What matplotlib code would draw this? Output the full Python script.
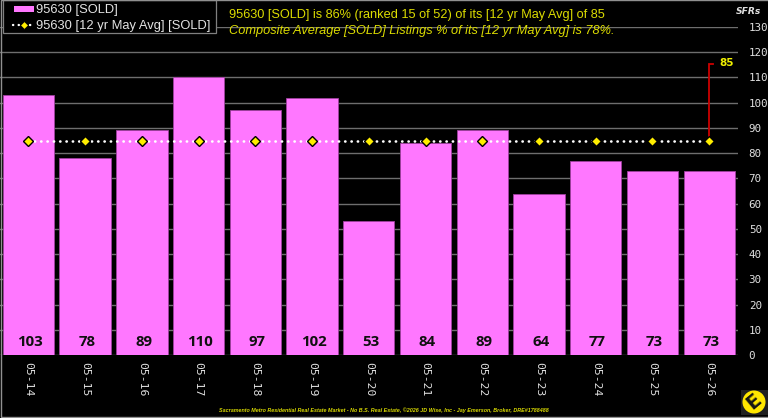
import matplotlib
matplotlib.use("Agg")
import matplotlib.pyplot as plt
from matplotlib.patches import Circle, Rectangle

periods = ["05-14", "05-15", "05-16", "05-17", "05-18", "05-19", "05-20",
           "05-21", "05-22", "05-23", "05-24", "05-25", "05-26"]
sold = [103, 78, 89, 110, 97, 102, 53, 84, 89, 64, 77, 73, 73]
avg_sold = [85] * 13
y_ticks = list(range(0, 140, 10))

W, H = 768, 418
PINK = "#ff77ff"
DOTS = (0, (0.1, 2.3))


# pixel position from the top left corner, as figure fractions
def px(x, y):
    return x / W, 1 - y / H


fig = plt.figure(figsize=(W / 100, H / 100), dpi=100, facecolor="black")
ax = fig.add_axes([0, 1 - 355 / H, 737.6 / W, 328 / H], facecolor="black")

x = list(range(len(periods)))
ax.bar(x, sold, width=0.905, color=PINK, edgecolor="#a040a0", linewidth=0.6, zorder=2)

ax.plot(x, avg_sold, color="white", linestyle=DOTS, linewidth=1.9, dash_capstyle="round", zorder=3)
ax.plot(x, avg_sold, linestyle="none", marker="D", markersize=5.2,
        markerfacecolor="#ffee00", markeredgecolor="black", markeredgewidth=1.0, zorder=4)

for i, v in enumerate(sold):
    ax.text(i + 0.03, 5, str(v), ha="center", va="center", fontsize=10.8, fontweight="bold",
            family="Open Sans", color="#101010", zorder=5)

# marker line for the latest average
ax.plot([12, 12, 12.065], [85, 115.5, 115.5], color="#cc0000", linewidth=1.3, zorder=3,
        solid_joinstyle="miter")
ax.text(12.17, 115.7, str(avg_sold[-1]), ha="left", va="center", fontsize=7.5, fontweight="bold",
        family="DejaVu Sans", color="#f0f000")

ax.set_xlim(-0.5, 12.5)
ax.set_ylim(0, 130)
ax.set_yticks(y_ticks)
ax.set_xticks(x)
ax.set_xticklabels(periods, rotation=-90, family="DejaVu Sans Mono", fontsize=8.2, color="#e0e0e0")
ax.yaxis.tick_right()
ax.tick_params(axis="y", length=0, pad=8, labelsize=7.8, labelcolor="#e0e0e0")
for lab in ax.get_yticklabels():
    lab.set_family("DejaVu Sans Mono")
ax.tick_params(axis="x", length=0, pad=5)
ax.grid(axis="y", color="#6e6e6e", linewidth=1.0, zorder=1)
ax.set_axisbelow(True)
for s in ax.spines.values():
    s.set_visible(False)

# legend box, laid out by hand
fig.add_artist(Rectangle(px(3, 33), 213 / W, 33 / H, transform=fig.transFigure,
                         facecolor="black", edgecolor="#808080", linewidth=0.9))
fig.add_artist(Rectangle(px(14, 12), 20 / W, 6 / H, transform=fig.transFigure,
                         facecolor=PINK, edgecolor="none"))
fig.add_artist(plt.Line2D([px(13, 25)[0], px(34, 25)[0]], [px(13, 25)[1]] * 2,
                          transform=fig.transFigure, color="white", linestyle=DOTS,
                          linewidth=1.7, dash_capstyle="round"))
fig.add_artist(plt.Line2D([px(24, 25)[0]], [px(24, 25)[1]], transform=fig.transFigure,
                          marker="D", markersize=3.6, markerfacecolor="#ffee00",
                          markeredgecolor="black", markeredgewidth=0.6, linestyle="none"))
for label, y in [("95630 [SOLD]", 10), ("95630 [12 yr May Avg] [SOLD]", 26)]:
    fig.text(*px(36.5, y), label, family="Liberation Sans", fontsize=9.25, color="#e4e4e4", va="center")

fig.text(*px(229, 15), "95630 [SOLD] is 86% (ranked 15 of 52) of its [12 yr May Avg] of 85",
         family="Liberation Sans", fontsize=9.15, color="#dcdc00", va="center")
fig.text(*px(229, 31), "Composite Average [SOLD] Listings % of its [12 yr May Avg] is 78%.",
         family="Liberation Sans", fontsize=9.2, style="italic", color="#dcdc00", va="center")
fig.text(*px(748.5, 11), "SFRs", family="DejaVu Sans", fontsize=6.6, style="italic",
         fontweight="bold", color="#e0e0e0", ha="center", va="center")
fig.text(*px(383.5, 410),
         "Sacramento Metro Residential Real Estate Market - No B.S. Real Estate, ©2026 JD Wise, Inc - Jay Emerson, Broker, DRE#1788488",
         family="Liberation Sans", fontsize=3.9, style="italic", fontweight="bold", color="#d8d800",
         ha="center", va="center")

# logo badge in the corner
fig.add_artist(Rectangle(px(741, 415), 27 / W, 25 / H, transform=fig.transFigure,
                         facecolor="#202020", edgecolor="none"))
badge = fig.add_axes([742 / W, 1 - 414 / H, 24 / W, 24 / H], zorder=10)
badge.set_xlim(0, 1)
badge.set_ylim(0, 1)
badge.axis("off")
badge.add_patch(Circle((0.5, 0.5), 0.48, facecolor="#ffe600", edgecolor="none"))
badge.text(0.5, 0.5, "E", rotation=40, ha="center", va="center", fontsize=14, fontweight="bold",
           family="DejaVu Sans", color="#151515")

# thin frame round the whole figure
fig.add_artist(Rectangle(px(0.8, 417), (W + 3) / W, 417 / H, transform=fig.transFigure,
                         facecolor="none", edgecolor="#909090", linewidth=1.0))

fig.savefig("out.png", dpi=100, facecolor="black")
